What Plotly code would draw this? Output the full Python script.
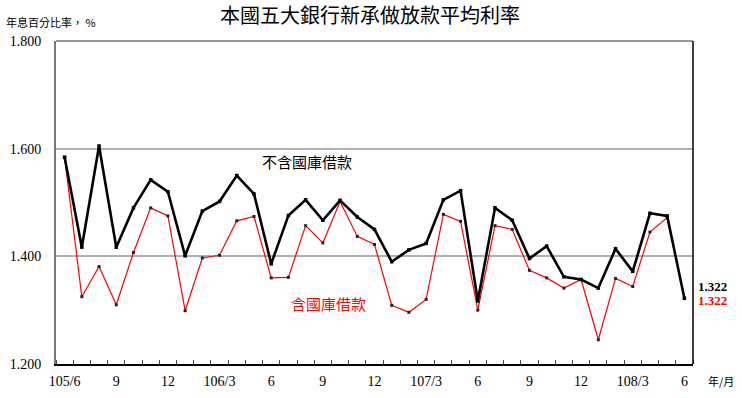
import plotly.graph_objects as go

months = []
for y, m0, m1 in [(105, 6, 12), (106, 1, 12), (107, 1, 12), (108, 1, 6)]:
    for m in range(m0, m1 + 1):
        months.append(f"{y}/{m}")

tick_labels = ["105/6", "9", "12", "106/3", "6", "9", "12", "107/3", "6", "9", "12", "108/3", "6"]

excl_treasury = [1.584, 1.417, 1.605, 1.417, 1.490, 1.542, 1.520, 1.401, 1.484, 1.502,
                 1.550, 1.516, 1.386, 1.476, 1.505, 1.467, 1.504, 1.473, 1.450, 1.390,
                 1.412, 1.424, 1.505, 1.522, 1.317, 1.490, 1.467, 1.396, 1.419, 1.362,
                 1.357, 1.341, 1.414, 1.372, 1.480, 1.475, 1.322]

incl_treasury = [1.584, 1.325, 1.381, 1.310, 1.407, 1.490, 1.475, 1.299, 1.397, 1.402,
                 1.466, 1.474, 1.360, 1.361, 1.457, 1.425, 1.502, 1.437, 1.422, 1.309,
                 1.296, 1.320, 1.478, 1.465, 1.300, 1.457, 1.450, 1.374, 1.360, 1.341,
                 1.357, 1.245, 1.359, 1.344, 1.445, 1.472, 1.322]

x = list(range(len(months)))
tick_pos = [months.index(f"{105 + (5 + 3 * i) // 12}/{(5 + 3 * i) % 12 + 1}") for i in range(len(tick_labels))]

SERIF = "Liberation Serif, Times New Roman, serif"
CJK = "Noto Sans CJK TC, Noto Sans CJK SC, sans-serif"

fig = go.Figure()
fig.add_trace(go.Scatter(
    x=x, y=incl_treasury, mode="lines+markers", name="含國庫借款",
    line=dict(color="#ff0000", width=1.2),
    marker=dict(color="#222222", size=3, symbol="square"),
    customdata=months, hovertemplate="%{customdata}: %{y:.3f}<extra></extra>",
))
fig.add_trace(go.Scatter(
    x=x, y=excl_treasury, mode="lines+markers", name="不含國庫借款",
    line=dict(color="#000000", width=2.6),
    marker=dict(color="#000000", size=3.5, symbol="square"),
    customdata=months, hovertemplate="%{customdata}: %{y:.3f}<extra></extra>",
))

fig.update_layout(
    width=742, height=398,
    margin=dict(l=56, r=49, t=41, b=34),
    paper_bgcolor="white", plot_bgcolor="white",
    showlegend=False,
    font=dict(family=SERIF, color="black"),
)

fig.update_xaxes(
    range=[-0.5, len(months) - 0.5],
    tickmode="array", tickvals=tick_pos, ticktext=tick_labels,
    ticks="", showgrid=False, zeroline=False, automargin=False,
    tickfont=dict(family=SERIF, size=14, color="black"),
    ticklabelstandoff=3,
    showline=True, linecolor="black", linewidth=1.5, mirror=False,
    minor=dict(tick0=0.5, dtick=1, ticks="inside", ticklen=4, tickcolor="#444444", showgrid=False),
)
fig.update_yaxes(
    range=[1.2, 1.8],
    tickmode="array", tickvals=[1.2, 1.4, 1.6, 1.8],
    tickformat=".3f",
    ticks="", showgrid=True, gridcolor="#b0b0b0", gridwidth=1.5, zeroline=False, automargin=False,
    tickfont=dict(family=SERIF, size=14, color="black"),
    ticklabelstandoff=10,
    showline=True, linecolor="#777777", linewidth=2,
)

# frame: top gray, right black
fig.add_shape(type="line", xref="paper", yref="paper", x0=0, x1=1, y0=1, y1=1,
              line=dict(color="#777777", width=1.5))
fig.add_shape(type="line", xref="paper", yref="paper", x0=1, x1=1, y0=0, y1=1,
              line=dict(color="black", width=1.5))

fig.add_annotation(text="本國五大銀行新承做放款平均利率", xref="paper", yref="paper",
                   x=0.493, y=1.083, showarrow=False, xanchor="center", yanchor="middle",
                   font=dict(family=CJK, size=20, color="black"))
fig.add_annotation(text="年息百分比率， %", xref="paper", yref="paper",
                   x=-0.082, y=1.058, showarrow=False, xanchor="left", yanchor="middle",
                   font=dict(family=CJK, size=11, color="black"))
fig.add_annotation(text="年/月", xref="paper", yref="paper",
                   x=1.02, y=-0.052, showarrow=False, xanchor="left", yanchor="middle",
                   font=dict(family=CJK, size=11, color="black"))
fig.add_annotation(text="不含國庫借款", x=14.05, y=1.576, showarrow=False,
                   xanchor="center", yanchor="middle",
                   font=dict(family=CJK, size=15, color="black"))
fig.add_annotation(text="含國庫借款", x=15.3, y=1.313, showarrow=False,
                   xanchor="center", yanchor="middle",
                   font=dict(family=CJK, size=15, color="#ff0000"))
fig.add_annotation(text=f"<b>{excl_treasury[-1]:.3f}</b>", xref="paper", x=1.005,
                   y=1.4 - (287.3 - 257) / 540, showarrow=False, xanchor="left", yanchor="middle",
                   font=dict(family=SERIF, size=13, color="black"))
fig.add_annotation(text=f"<b>{incl_treasury[-1]:.3f}</b>", xref="paper", x=1.005,
                   y=1.4 - (301.7 - 257) / 540, showarrow=False, xanchor="left", yanchor="middle",
                   font=dict(family=SERIF, size=13, color="#ff0000"))

fig.write_html("out.html", config={"displayModeBar": False},
               post_script="document.body.style.margin='0';")
